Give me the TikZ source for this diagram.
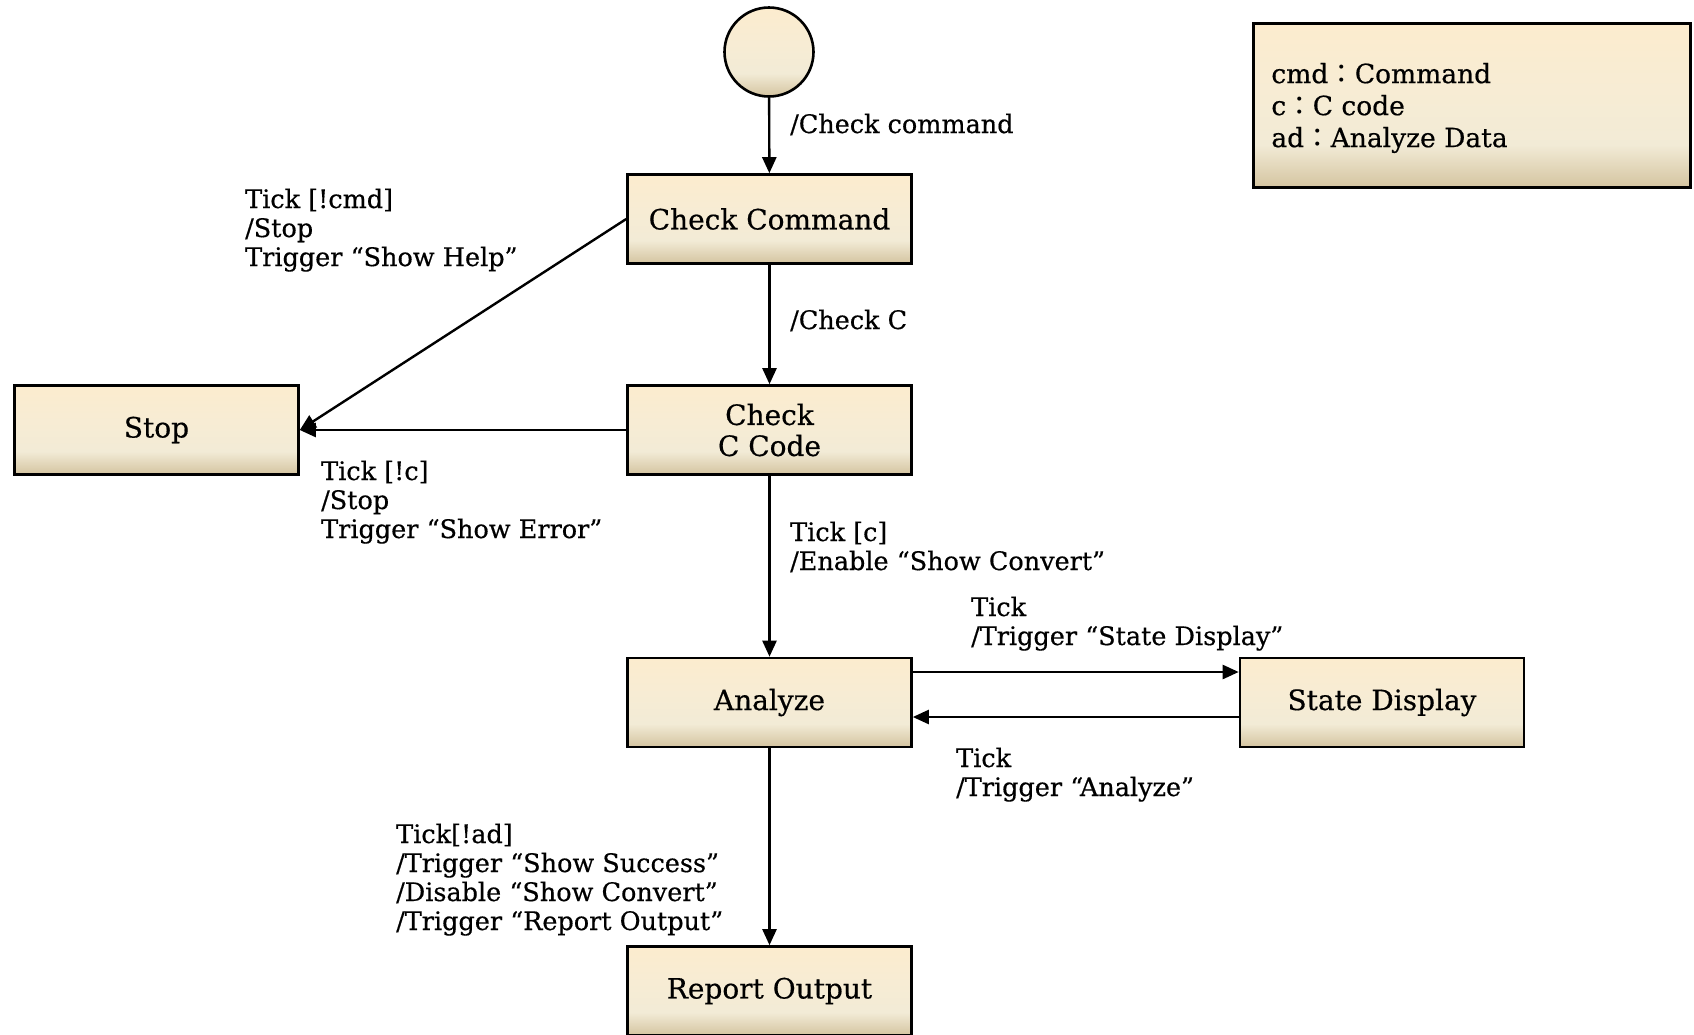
\documentclass[tikz,border=0pt]{standalone}
\usepackage{fontspec}
\setmainfont{DejaVu Serif}[FakeBold=0.5]
\newfontfamily\cjk{Noto Sans CJK TC}
\usetikzlibrary{arrows.meta}
\definecolor{ctop}{RGB}{252,236,206}
\definecolor{cup}{RGB}{247,236,212}
\definecolor{cmid}{RGB}{242,235,214}
\definecolor{cbot}{RGB}{212,196,160}
\pgfdeclareverticalshading{boxshade}{100bp}{color(0bp)=(cbot); color(25bp)=(cbot); color(38bp)=(cmid); color(55bp)=(cup); color(75bp)=(ctop); color(100bp)=(ctop)}
\tikzset{
  statebox/.style={draw=black, line width=2.6pt, shading=boxshade, minimum width=284pt, minimum height=89pt, font=\fontsize{28}{31}\selectfont, align=center, inner sep=0pt},
  initcirc/.style={circle, draw=black, line width=2.6pt, shading=boxshade, minimum size=89pt, inner sep=0pt},
  legendbox/.style={draw=black, line width=2.6pt, shading=boxshade, minimum width=437pt, minimum height=164pt},
  legendtext/.style={anchor=west, align=left, inner sep=0pt, font=\fontsize{26.5}{32}\selectfont},
  lbl/.style={anchor=base west, align=left, font=\fontsize{25.5}{29}\selectfont, inner sep=0pt},
  arr/.style={line width=2.4pt, -{Triangle[length=16pt,width=14pt]}},
}
\begin{document}
\begin{tikzpicture}[x=1pt,y=-1pt]
\useasboundingbox (0,0) rectangle (1694,1034);
\node[initcirc] (init) at (769,52) {};
\node[statebox] (cc) at (769.5,219) {Check Command};
\node[statebox] (ccc) at (769.5,430) {Check\\C Code};
\node[statebox] (stop) at (156.5,430) {Stop};
\node[statebox] (ana) at (769.5,702.5) {Analyze};
\node[statebox] (sd) at (1382,702.5) {State Display};
\node[statebox] (rep) at (769.5,991) {Report Output};
\node[legendbox] (leg) at (1472,105.5) {};
\node[legendtext] (legt) at ([xshift=19pt,yshift=-2.5pt]leg.west) {cmd{\cjk ：}Command\\c{\cjk ：}C code\\ad{\cjk ：}Analyze Data};

\draw[arr] (init) -- (cc);
\draw[arr] (cc) -- (ccc);
\draw[arr] (cc.west) -- (stop.east);
\draw[arr] (ccc.west) -- (stop.east);
\draw[arr] (ccc) -- (ana);
\draw[arr] ([yshift=30.5pt]ana.east) -- ([yshift=30.5pt]sd.west);
\draw[arr] ([yshift=-14.5pt]sd.west) -- ([yshift=-14.5pt]ana.east);
\draw[arr] (ana) -- (rep);

% base anchor of a multi-line label is the baseline of its last line
\node[lbl] (l1) at (790,133) {/Check command};
\node[lbl] (l2) at (245,266) {Tick [!cmd]\\/Stop\\Trigger “Show Help”};
\node[lbl] (l3) at (790,329) {/Check C};
\node[lbl] (l4) at (321,538) {Tick [!c]\\/Stop\\Trigger “Show Error”};
\node[lbl] (l5) at (790,570) {Tick [c]\\/Enable “Show Convert”};
\node[lbl] (l6) at (971,645) {Tick\\/Trigger “State Display”};
\node[lbl] (l7) at (956,796) {Tick\\/Trigger “Analyze”};
\node[lbl] (l8) at (396,930) {Tick[!ad]\\/Trigger “Show Success”\\/Disable “Show Convert”\\/Trigger “Report Output”};
\end{tikzpicture}
\end{document}
